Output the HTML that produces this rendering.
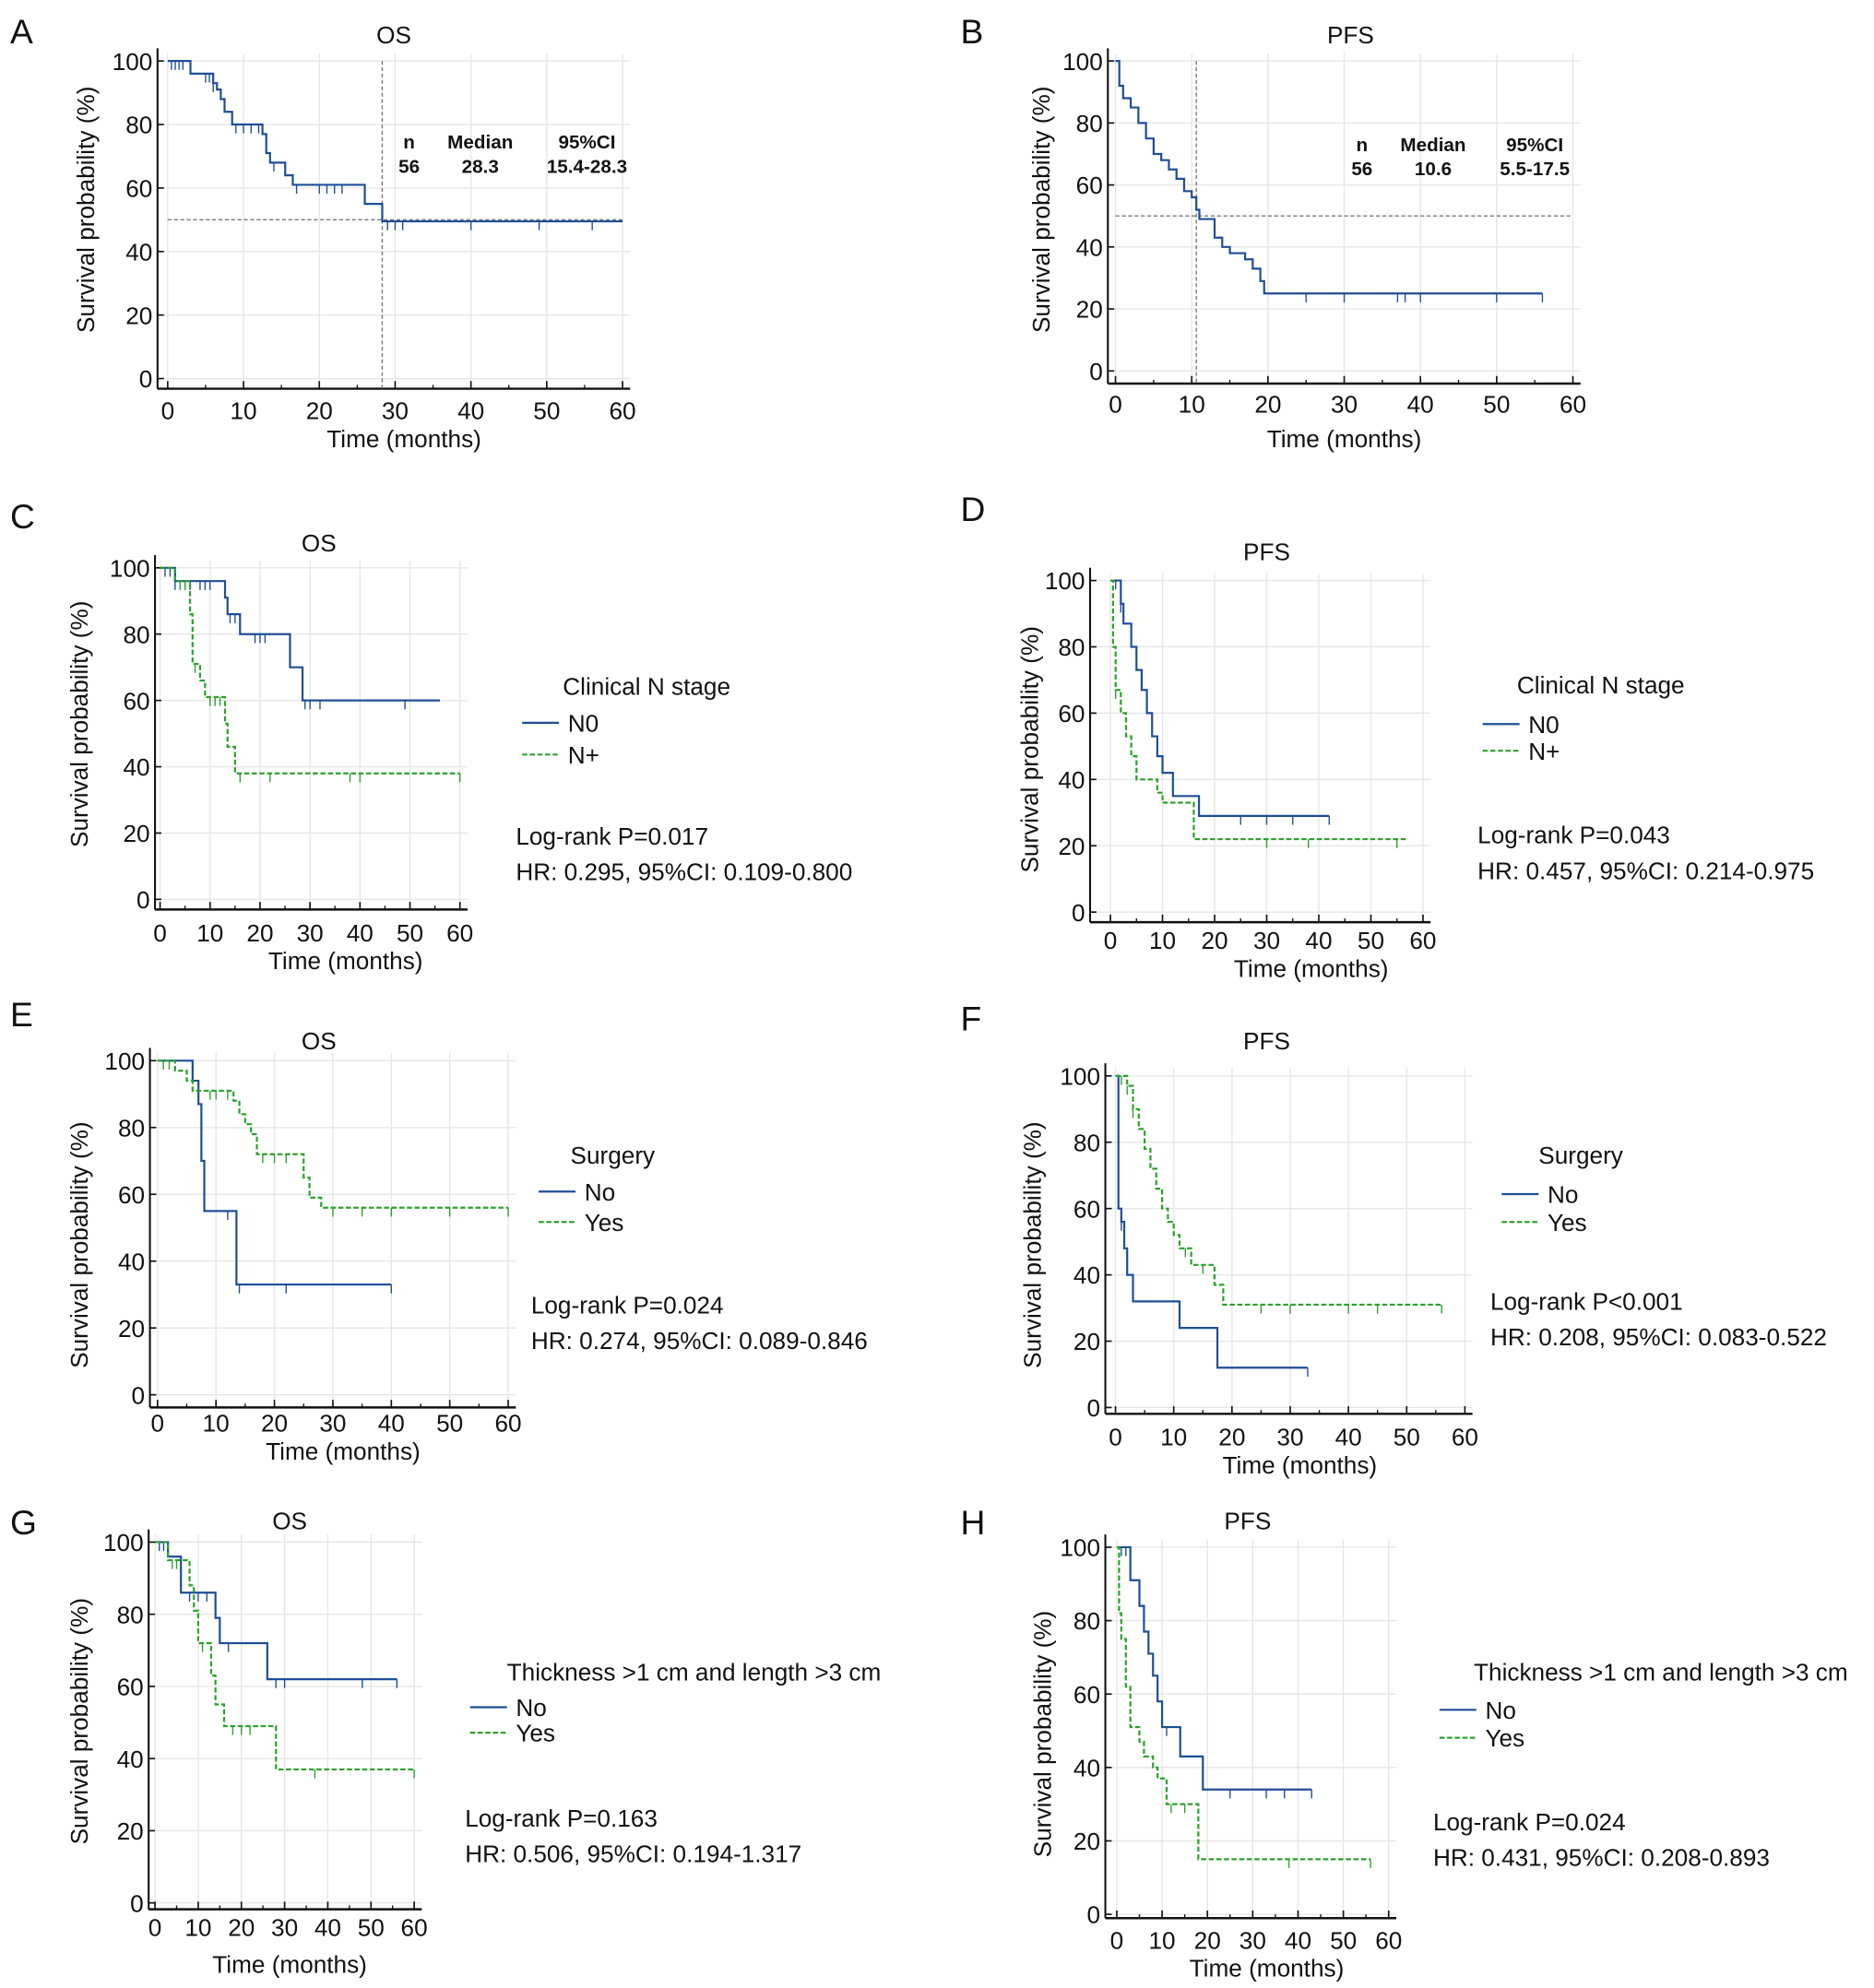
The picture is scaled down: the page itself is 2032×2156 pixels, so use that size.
<!DOCTYPE html>
<html><head><meta charset="utf-8"><style>
html,body{margin:0;padding:0;background:#fff}
svg{display:block}
text{font-family:"Liberation Sans",sans-serif;fill:#111}
</style></head><body>
<svg id="fig" width="2032" height="2156" viewBox="0 0 1475 1565" xmlns="http://www.w3.org/2000/svg"></svg>
<script>
// ---- data (time in months, survival %) ----
const aOS_t=[0,3,6,6.5,7,7.5,8.5,12.5,13,13.5,15.5,16.5,26,28.3];
const aOS_s=[100,96,93,91,88,84,80,77,71,68,64,61,55,49.5];
const aOS_c=[0.5,1,1.5,2,5,5.5,6,9,10,11,12,14,17,20,21,22,23,29,30,31,40,49,56];
const aOS_end=60;
const bPFS_t=[0,0.5,1,2,3,4,5,6,7,8,9,10,10.6,11,13,14,15,17,18,19];
const bPFS_s=[100,92,88,85,80,75,70,68,65,62,58,56,52,49,43,40,38,36,33,29];
const bPFS_t2=[19.5];const bPFS_s2=[25];
const bPFS_c=[25,30,37,38,40,50,56];
const bPFS_end=56;
const cN0_t=[0,3,13,13.5,16,26,28.5];const cN0_s=[100,96,91,86,80,70,60];
const cN0_c=[1,2,3,5,6,8,9,10,14,15,19,20,21,29,30,32,49];const cN0_end=56;
const cNp_t=[0,3,6,6.5,8,9,13,13.5,15];const cNp_s=[100,96,86,71,66,61,53,46,38];
const cNp_c=[4,5,7,10,11,12,16,22,38,40,60];const cNp_end=60;
const dN0_t=[0,2,2.5,4,5,6,7,8,9,10,12,17,18];const dN0_s=[100,93,87,80,73,67,60,53,47,42,35,29,29];
const dN0_c=[1,2,25,30,35,42];const dN0_end=42;
const dNp_t=[0,0.5,1,2,3,4,5,9,10,16];const dNp_s=[100,80,67,60,53,47,40,36,33,22];
const dNp_c=[1,30,38,55];const dNp_end=57;
const eNo_t=[0,6,7,7.5,8,13.5];const eNo_s=[100,94,87,70,55,33];
const eNo_c=[12,14,22,40];const eNo_end=40;
const eYes_t=[0,3,5,6,8,13,14,15,16,17,25,26,28,29];const eYes_s=[100,97,94,91,91,88,84,81,78,72,65,59,56,56];
const eYes_c=[1,2,9,10,12,18,20,22,30,35,40,50,60];const eYes_end=60;
const fNo_t=[0,0.5,1,1.5,2,3,11,17.5];const fNo_s=[100,60,56,48,40,32,24,12];
const fNo_c=[1,33];const fNo_end=33;
const fYes_t=[0,2,3,4,5,6,7,8,9,10,11,13,14,17,18.5];const fYes_s=[100,97,90,84,78,72,66,60,56,52,48,43,43,37,31];
const fYes_c=[1,2,3,12,15,25,30,40,45,56];const fYes_end=56;
const gNo_t=[0,3,6,14,15,26];const gNo_s=[100,96,86,79,72,62];
const gNo_c=[1,2,8,10,12,17,28,30,48,56];const gNo_end=56;
const gYes_t=[0,3,7,8,9,10,13,14,16,28];const gYes_s=[100,95,95,88,81,72,63,55,49,37];
const gYes_c=[4,5,11,18,20,22,37,60];const gYes_end=60;
const hNo_t=[0,3,5,6,7,8,9,10,14,19];const hNo_s=[100,91,84,77,71,65,58,51,43,34];
const hNo_c=[1,2,11,25,33,37,43];const hNo_end=43;
const hYes_t=[0,0.5,1,2,3,5,6,8,9,11,18];const hYes_s=[100,82,75,62,51,47,43,40,37,30,15];
const hYes_c=[12,15,38,56];const hYes_end=56;
const xTicks=[0,10,20,30,40,50,60];
const yTicks=[0,20,40,60,80,100];

const BLUE="#1f4e96",GREEN="#2ca02c";
const svg=document.getElementById('fig');
const NS="http://www.w3.org/2000/svg";
function mk(tag,attrs,parent){const e=document.createElementNS(NS,tag);for(const k in attrs)e.setAttribute(k,attrs[k]);(parent||svg).appendChild(e);return e;}
function txt(s,x,y,size,anchor,parent,weight){const t=mk('text',{x:x,y:y,'font-size':size,'text-anchor':anchor||'start','font-weight':weight||'normal'},parent);t.textContent=s;return t;}

function panel(P){
  const g=mk('g',{});
  
  
  const X=v=>P.x0+(P.x60-P.x0)*v/60, Y=v=>P.y0+(P.y100-P.y0)*v/100;
  const L=txt(P.id,P.lx,P.ly,27,'start',g);
  
  const T=txt(P.title,P.tx,P.ty,19,'middle',g);
  
  // grid
  xTicks.forEach(v=>{const l=mk('line',{x1:X(v),x2:X(v),y1:Y(100)-6,y2:P.bot,stroke:'#e6e6e6','stroke-width':1},g);});
  yTicks.forEach(v=>{const l=mk('line',{x1:P.ax,x2:X(60)+6,y1:Y(v),y2:Y(v),stroke:'#e6e6e6','stroke-width':1},g);});
  // axes
  const ya=mk('line',{x1:P.ax,x2:P.ax,y1:Y(100)-10,y2:P.bot,stroke:'#111','stroke-width':1.5},g);
  
  const xa=mk('line',{x1:P.ax,x2:X(60)+6,y1:P.bot,y2:P.bot,stroke:'#111','stroke-width':1.8},g);
  
  xTicks.forEach(v=>{mk('line',{x1:X(v),x2:X(v),y1:P.bot,y2:P.bot-6,stroke:'#111','stroke-width':1.2},g);
    const t=txt(String(v),X(v),P.tl,19,'middle',g);});
  for(let v=5;v<60;v+=10)mk('line',{x1:X(v),x2:X(v),y1:P.bot,y2:P.bot-3,stroke:'#111'},g);
  yTicks.forEach(v=>{mk('line',{x1:P.ax,x2:P.ax+5,y1:Y(v),y2:Y(v),stroke:'#111','stroke-width':1.2},g);
    const t=txt(String(v),P.ax-4,Y(v)+7,19,'end',g);});
  const yl=txt('Survival probability (%)',0,0,19,'middle',g);
  yl.setAttribute('transform','translate('+P.ylx+','+P.yly+') rotate(-90)');
  
  const xl=txt('Time (months)',P.xlx,P.xly,19,'middle',g);
  
  // median lines
  if(P.median!=null){
    mk('line',{x1:X(0),x2:X(60),y1:Y(50),y2:Y(50),stroke:'#777','stroke-dasharray':'3,2','stroke-width':1},g);
    mk('line',{x1:X(P.median),x2:X(P.median),y1:Y(100),y2:P.bot,stroke:'#777','stroke-dasharray':'3,2','stroke-width':1},g);
  }
  // curves
  P.series.forEach(S=>{
    let d='M'+X(S.t[0])+','+Y(S.s[0]);
    for(let i=1;i<S.t.length;i++){d+=' H'+X(S.t[i])+' V'+Y(S.s[i]);}
    d+=' H'+X(S.end);
    const p=mk('path',{d:d,fill:'none',stroke:S.col,'stroke-width':1.6,'stroke-dasharray':S.dash?'4,2':'none'},g);
    
    S.c.forEach(ct=>{let sv=S.s[0];for(let i=0;i<S.t.length;i++)if(S.t[i]<=ct)sv=S.s[i];
      const m=mk('line',{x1:X(ct),x2:X(ct),y1:Y(sv),y2:Y(sv)+7,stroke:S.col,'stroke-width':1},g);
      });
  });
  if(P.annot){
    const a=P.annot;
    ['n','Median','95%CI'].forEach((s,i)=>txt(s,a.x[i],a.y,15,'middle',g,'bold'));
    a.v.forEach((s,i)=>txt(s,a.x[i],a.y+19,15,'middle',g,'bold'));
  }
  if(P.leg){
    const l=P.leg;
    const lt=txt(l.title,l.tx,l.ty,19,'start',g);
    P.series.forEach((S,i)=>{
      const yy=l.ly[i];
      const ln=mk('line',{x1:l.lx,x2:l.lx+29,y1:yy,y2:yy,stroke:S.col,'stroke-width':1.6,'stroke-dasharray':S.dash?'4,2':'none'},g);
      
      const t=txt(S.label,l.lx+36,yy+7,19,'start',g);
    });
    const p1=txt(l.p,l.px,l.py,19,'start',g);
    const p2=txt(l.hr,l.px,l.py+28,19,'start',g);
  }
}
const two=(pre,a,b,la,lb)=>[{name:la.toLowerCase().replace('+','plus'),label:la,col:BLUE,dash:false,t:a[0],s:a[1],c:a[2],end:a[3]},
  {name:lb.toLowerCase().replace('+','plus'),label:lb,col:GREEN,dash:true,t:b[0],s:b[1],c:b[2],end:b[3]}];

panel({id:'A',title:'OS',lx:8,ly:34,tx:310,ty:34,ax:124,x0:132,x60:490,y0:298,y100:48,bot:306,tl:330,ylx:74,yly:165,xlx:318,xly:352,median:28.3,
  annot:{x:[322,378,462],y:117,v:['56','28.3','15.4-28.3']},
  series:[{name:'os',col:BLUE,t:aOS_t,s:aOS_s,c:aOS_c,end:aOS_end}]});
panel({id:'B',title:'PFS',lx:756,ly:34,tx:1063,ty:34,ax:872,x0:878,x60:1238,y0:292,y100:48,bot:302,tl:325,ylx:826,yly:165,xlx:1058,xly:352,median:10.6,
  annot:{x:[1072,1128,1208],y:119,v:['56','10.6','5.5-17.5']},
  series:[{name:'pfs',col:BLUE,t:bPFS_t.concat(bPFS_t2),s:bPFS_s.concat(bPFS_s2),c:bPFS_c,end:bPFS_end}]});
panel({id:'C',title:'OS',lx:8,ly:416,tx:251,ty:434,ax:122,x0:126,x60:362,y0:708,y100:447,bot:716,tl:741,ylx:69,yly:570,xlx:272,xly:763,
  leg:{title:'Clinical N stage',tx:443,ty:547,lx:411,ly:[569,594],p:'Log-rank P=0.017',hr:'HR: 0.295, 95%CI: 0.109-0.800',px:406,py:665},
  series:two('c',[cN0_t,cN0_s,cN0_c,cN0_end],[cNp_t,cNp_s,cNp_c,cNp_end],'N0','N+')});
panel({id:'D',title:'PFS',lx:756,ly:410,tx:997,ty:441,ax:858,x0:874,x60:1120,y0:718,y100:457,bot:726,tl:747,ylx:817,yly:590,xlx:1032,xly:769,
  leg:{title:'Clinical N stage',tx:1194,ty:546,lx:1167,ly:[570,591],p:'Log-rank P=0.043',hr:'HR: 0.457, 95%CI: 0.214-0.975',px:1163,py:664},
  series:two('d',[dN0_t,dN0_s,dN0_c,dN0_end],[dNp_t,dNp_s,dNp_c,dNp_end],'N0','N+')});
panel({id:'E',title:'OS',lx:8,ly:808,tx:251,ty:826,ax:118,x0:124,x60:400,y0:1098,y100:835,bot:1108,tl:1127,ylx:69,yly:980,xlx:270,xly:1149,
  leg:{title:'Surgery',tx:449,ty:916,lx:424,ly:[938,962],p:'Log-rank P=0.024',hr:'HR: 0.274, 95%CI: 0.089-0.846',px:418,py:1034},
  series:two('e',[eNo_t,eNo_s,eNo_c,eNo_end],[eYes_t,eYes_s,eYes_c,eYes_end],'No','Yes')});
panel({id:'F',title:'PFS',lx:756,ly:811,tx:997,ty:826,ax:870,x0:878,x60:1153,y0:1108,y100:847,bot:1113,tl:1138,ylx:819,yly:980,xlx:1023,xly:1160,
  leg:{title:'Surgery',tx:1211,ty:916,lx:1182,ly:[940,962],p:'Log-rank P<0.001',hr:'HR: 0.208, 95%CI: 0.083-0.522',px:1173,py:1031},
  series:two('f',[fNo_t,fNo_s,fNo_c,fNo_end],[fYes_t,fYes_s,fYes_c,fYes_end],'No','Yes')});
panel({id:'G',title:'OS',lx:8,ly:1208,tx:228,ty:1204,ax:117,x0:122,x60:326,y0:1498,y100:1214,bot:1503,tl:1524,ylx:69,yly:1355,xlx:228,xly:1553,
  leg:{title:'Thickness >1 cm and length >3 cm',tx:399,ty:1323,lx:370,ly:[1344,1364],p:'Log-rank P=0.163',hr:'HR: 0.506, 95%CI: 0.194-1.317',px:366,py:1438},
  series:two('g',[gNo_t,gNo_s,gNo_c,gNo_end],[gYes_t,gYes_s,gYes_c,gYes_end],'No','Yes')});
panel({id:'H',title:'PFS',lx:756,ly:1208,tx:982,ty:1204,ax:870,x0:879,x60:1093,y0:1507,y100:1218,bot:1510,tl:1534,ylx:827,yly:1365,xlx:997,xly:1556,
  leg:{title:'Thickness >1 cm and length >3 cm',tx:1160,ty:1323,lx:1133,ly:[1346,1368],p:'Log-rank P=0.024',hr:'HR: 0.431, 95%CI: 0.208-0.893',px:1128,py:1441},
  series:two('h',[hNo_t,hNo_s,hNo_c,hNo_end],[hYes_t,hYes_s,hYes_c,hYes_end],'No','Yes')});
</script>
</body></html>
